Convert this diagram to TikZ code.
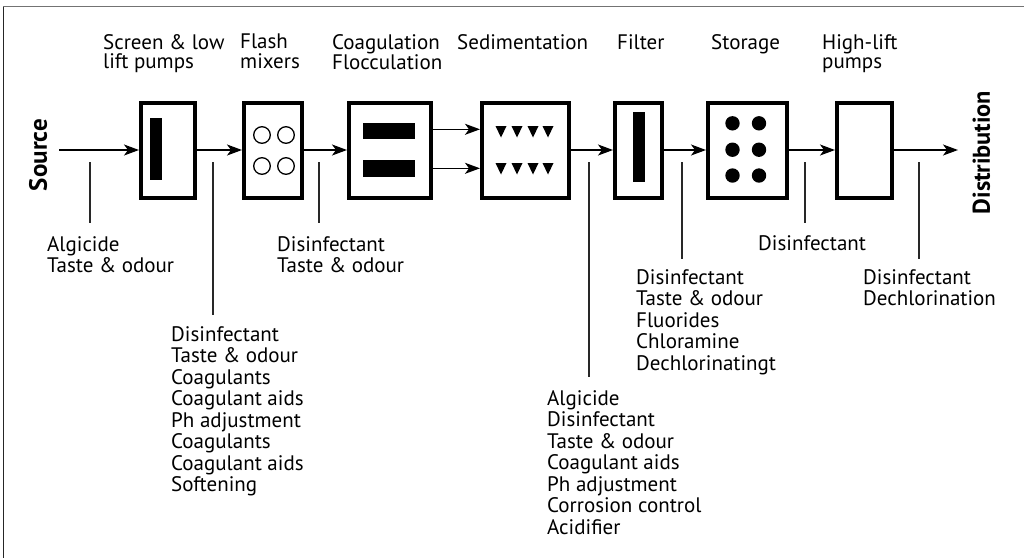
\documentclass[tikz,border=0pt]{standalone}
\usepackage{fontspec}
\setmainfont{PT Sans}
\usetikzlibrary{arrows.meta}
\begin{document}
\begin{tikzpicture}[x=1pt,y=-1pt,
  unit/.style={draw=black, line width=4pt, inner sep=0pt, minimum height=95pt},
  flow/.style={-{Stealth[length=15pt,width=11pt,inset=4pt]}, line width=1.4pt, black},
  feed/.style={line width=1.3pt, draw={rgb,255:red,40;green,40;blue,40}},
  lbl/.style={anchor=north west, align=left, inner sep=0pt, font=\fontsize{21}{21.5}\selectfont},
  toplbl/.style={anchor=north west, align=left, inner sep=0pt, font=\fontsize{21}{19.2}\selectfont},
  side/.style={rotate=90, inner sep=0pt, font=\fontsize{#1}{26}\selectfont\bfseries}
]
\useasboundingbox (0,0) rectangle (1024,558);
% frame
\draw[line width=1.4pt, gray!90!black] (3,6.7) -- (1024,6.7);
\draw[line width=1.4pt, black!85] (3.7,6.7) -- (3.7,558);

% boxes
\node[unit, minimum width=54pt] (screen)   at (168,150) {};
\node[unit, minimum width=58pt] (flash)    at (273,150) {};
\node[unit, minimum width=82pt] (coag)     at (390,150) {};
\node[unit, minimum width=87pt] (sedim)    at (525.5,150) {};
\node[unit, minimum width=47pt] (filter)   at (638.5,150) {};
\node[unit, minimum width=79pt] (storage)  at (747.5,150) {};
\node[unit, minimum width=55pt] (highlift) at (864.5,150) {};

% box contents
\fill (150,118) rectangle (162,180);
\foreach \cx in {262,286} \foreach \cy in {135,166}
  \draw[line width=1.3pt] (\cx,\cy) circle[radius=8.3pt];
\fill (363.3,122.7) rectangle (415.3,139.3);
\fill (363.3,160) rectangle (415.3,176.7);
\foreach \tx in {501,517,533,548} \foreach \ty in {126,163}
  \fill (\tx-5.5,\ty) -- (\tx+5.5,\ty) -- (\tx,\ty+11.5) -- cycle;
\fill (633,112) rectangle (645,182);
\foreach \dx in {732.5,759} \foreach \dy in {123.3,149.7,175.5}
  \fill (\dx,\dy) circle[radius=7.2pt];

% side labels
\node[side=25] (source) at (38,155) {Source};
\node[side=24.3] (distribution) at (981.5,152.5) {Distribution};

% flow arrows
\coordinate (src) at (59,150);
\coordinate (dst) at (958,150);
\draw[flow] (src) -- (screen);
\draw[flow] (screen) -- (flash);
\draw[flow] (flash) -- (coag);
\draw[flow] ([yshift=20.7pt]coag.east) -- ([yshift=20.7pt]sedim.west);
\draw[flow] ([yshift=-18.3pt]coag.east) -- ([yshift=-18.3pt]sedim.west);
\draw[flow] (sedim) -- (filter);
\draw[flow] (filter) -- (storage);
\draw[flow] (storage) -- (highlift);
\draw[flow] (highlift) -- (dst);

% feed lines
\coordinate (f1t) at (90,162);  \coordinate (f1b) at (90,223);
\coordinate (f2t) at (213,162); \coordinate (f2b) at (213,315);
\coordinate (f3t) at (319,162); \coordinate (f3b) at (319,223);
\coordinate (f4t) at (589,162); \coordinate (f4b) at (589,377);
\coordinate (f5t) at (682,162); \coordinate (f5b) at (682,259);
\coordinate (f6t) at (805,162); \coordinate (f6b) at (805,223);
\coordinate (f7t) at (919,162); \coordinate (f7b) at (919,259);
\foreach \i in {1,...,7} \draw[feed] (f\i t) -- (f\i b);

% top labels
\node[toplbl] (tscreen)  at (103,34) {Screen \& low\\lift pumps};
\node[toplbl] (tflash)   at (240,34) {Flash\\mixers};
\node[toplbl] (tcoag)    at (332,34) {Coagulation\\Flocculation};
\node[toplbl] (tsedim)   at (457,34) {Sedimentation};
\node[toplbl] (tfilter)  at (617,34) {Filter};
\node[toplbl] (tstorage) at (711,34) {Storage};
\node[toplbl] (thigh)    at (822,34) {High-lift\\pumps};

% chemical labels
\node[lbl] (l1) at (47,236) {Algicide\\Taste \& odour};
\node[lbl] (l2) at (171,326) {Disinfectant\\Taste \& odour\\Coagulants\\Coagulant aids\\Ph adjustment\\Coagulants\\Coagulant aids\\Softening};
\node[lbl] (l3) at (277,236) {Disinfectant\\Taste \& odour};
\node[lbl] (l4) at (547,390) {Algicide\\Disinfectant\\Taste \& odour\\Coagulant aids\\Ph adjustment\\Corrosion control\\Acidifier};
\node[lbl] (l5) at (636,269) {Disinfectant\\Taste \& odour\\Fluorides\\Chloramine\\Dechlorinatingt};
\node[lbl] (l6) at (758,235) {Disinfectant};
\node[lbl] (l7) at (863,269) {Disinfectant\\Dechlorination};
\end{tikzpicture}
\end{document}
